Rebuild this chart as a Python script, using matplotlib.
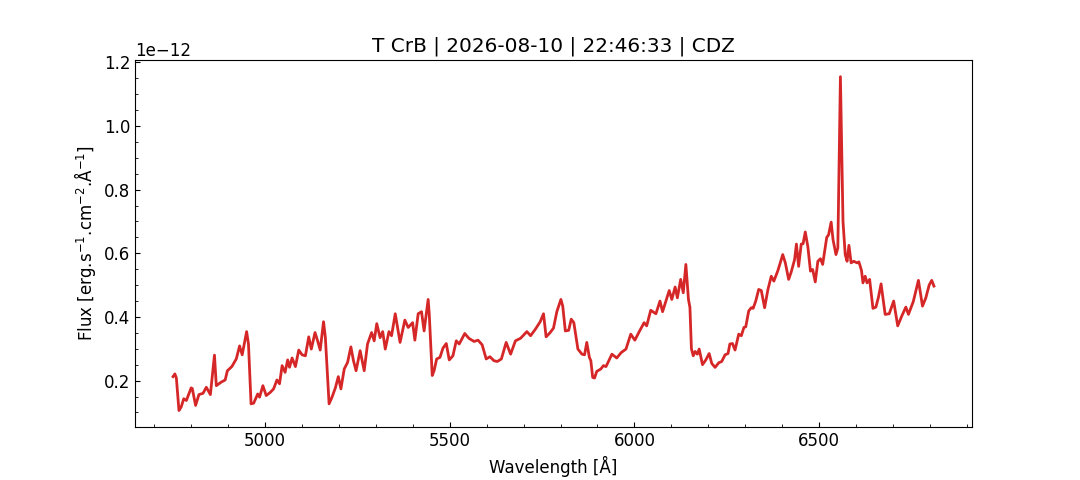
import matplotlib
matplotlib.use("Agg")
import matplotlib.pyplot as plt
import numpy as np

wavelength = [
    4752, 4757, 4761, 4768, 4774, 4781, 4788, 4801, 4804, 4813, 4822, 4833, 4842, 4853,
    4864, 4869, 4882, 4893, 4899, 4911, 4923, 4932, 4939, 4951, 4956, 4963, 4970, 4981,
    4986, 4995, 5004, 5015, 5024, 5033, 5040, 5047, 5055, 5062, 5067, 5074, 5083, 5092,
    5101, 5110, 5119, 5126, 5136, 5143, 5150, 5159, 5164, 5174, 5182, 5191, 5199, 5206,
    5215, 5224, 5233, 5240, 5247, 5258, 5269, 5278, 5289, 5296, 5303, 5312, 5319, 5326,
    5336, 5343, 5353, 5366, 5379, 5388, 5400, 5406, 5415, 5424, 5431, 5442, 5445, 5453,
    5458, 5465, 5474, 5482, 5491, 5499, 5509, 5518, 5526, 5541, 5552, 5566, 5577, 5588,
    5599, 5609, 5620, 5629, 5640, 5653, 5665, 5678, 5692, 5709, 5719, 5732, 5745, 5754,
    5761, 5772, 5781, 5790, 5801, 5806, 5813, 5822, 5829, 5836, 5847, 5858, 5865, 5871,
    5878, 5882, 5887, 5892, 5898, 5909, 5916, 5923, 5939, 5952, 5964, 5977, 5990, 6001,
    6013, 6026, 6033, 6044, 6058, 6069, 6076, 6094, 6101, 6110, 6116, 6125, 6132, 6139,
    6146, 6150, 6154, 6159, 6164, 6170, 6175, 6184, 6193, 6202, 6209, 6218, 6228, 6236,
    6245, 6253, 6258, 6265, 6272, 6282, 6289, 6296, 6301, 6309, 6316, 6321, 6328, 6336,
    6343, 6352, 6361, 6370, 6377, 6388, 6401, 6408, 6417, 6424, 6433, 6438, 6444, 6451,
    6456, 6462, 6469, 6476, 6482, 6489, 6496, 6503, 6509, 6520, 6525, 6532, 6537, 6545,
    6550, 6557, 6564, 6570, 6575, 6580, 6586, 6593, 6602, 6607, 6614, 6618, 6624, 6629,
    6636, 6645, 6653, 6660, 6667, 6678, 6689, 6701, 6712, 6723, 6734, 6741, 6754, 6761,
    6768, 6779, 6788, 6797, 6804, 6810,
]

flux_e12 = [
    0.2125, 0.221, 0.208, 0.106, 0.117, 0.143, 0.1375, 0.177, 0.175, 0.122, 0.156, 0.160, 0.179, 0.156,
    0.280, 0.184, 0.195, 0.202, 0.231, 0.244, 0.268, 0.309, 0.281, 0.354, 0.315, 0.127, 0.129, 0.158,
    0.148, 0.184, 0.153, 0.163, 0.174, 0.202, 0.190, 0.247, 0.226, 0.265, 0.242, 0.271, 0.244, 0.296,
    0.281, 0.278, 0.3375, 0.299, 0.351, 0.325, 0.296, 0.385, 0.335, 0.127, 0.148, 0.177, 0.2125, 0.174,
    0.2365, 0.257, 0.306, 0.2625, 0.231, 0.294, 0.231, 0.315, 0.351, 0.325, 0.379, 0.335, 0.354, 0.299,
    0.354, 0.341, 0.410, 0.320, 0.390, 0.367, 0.382, 0.327, 0.410, 0.4165, 0.356, 0.455, 0.408, 0.216,
    0.231, 0.268, 0.273, 0.302, 0.3165, 0.265, 0.278, 0.325, 0.315, 0.348, 0.333, 0.323, 0.327, 0.3125,
    0.268, 0.275, 0.2625, 0.260, 0.268, 0.320, 0.283, 0.325, 0.333, 0.354, 0.341, 0.3615, 0.385, 0.410,
    0.3375, 0.351, 0.365, 0.4165, 0.455, 0.434, 0.356, 0.358, 0.393, 0.382, 0.299, 0.283, 0.281, 0.320,
    0.273, 0.2625, 0.210, 0.208, 0.229, 0.2365, 0.247, 0.244, 0.283, 0.271, 0.288, 0.299, 0.346, 0.327,
    0.354, 0.382, 0.372, 0.421, 0.410, 0.450, 0.4165, 0.483, 0.455, 0.494, 0.460, 0.518, 0.476, 0.565,
    0.455, 0.430, 0.300, 0.278, 0.2915, 0.283, 0.299, 0.250, 0.265, 0.285, 0.254, 0.2415, 0.256, 0.260,
    0.281, 0.285, 0.315, 0.3165, 0.296, 0.346, 0.341, 0.367, 0.369, 0.419, 0.429, 0.427, 0.450, 0.4865,
    0.483, 0.429, 0.4865, 0.528, 0.5125, 0.546, 0.596, 0.570, 0.518, 0.5415, 0.580, 0.629, 0.559, 0.629,
    0.630, 0.667, 0.620, 0.544, 0.549, 0.510, 0.575, 0.583, 0.565, 0.650, 0.658, 0.698, 0.643, 0.596,
    0.6165, 1.155, 0.700, 0.596, 0.575, 0.625, 0.570, 0.575, 0.570, 0.573, 0.546, 0.507, 0.528, 0.507,
    0.518, 0.427, 0.431, 0.4625, 0.504, 0.408, 0.410, 0.450, 0.372, 0.403, 0.431, 0.408, 0.448, 0.481,
    0.515, 0.434, 0.460, 0.500, 0.515, 0.497,
]

title = "T CrB | 2026-08-10 | 22:46:33 | CDZ"

fig, ax = plt.subplots(figsize=(10.8, 4.8), dpi=100)
ax.plot(wavelength, np.array(flux_e12) * 1e-12, color="#d62728", linewidth=2.0,
        solid_joinstyle="round")
ax.set_title(title, fontsize=14.4)
ax.set_xlabel("Wavelength [Å]", fontsize=12)
ax.set_ylabel("Flux [erg.s$^{-1}$.cm$^{-2}$.Å$^{-1}$]", fontsize=12)
ax.minorticks_on()
ax.tick_params(which="both", direction="in", labelsize=12)
ax.yaxis.get_offset_text().set_fontsize(12)
fig.subplots_adjust(left=0.125, right=0.9, bottom=0.11, top=0.875)
fig.savefig("out.png", dpi=100)
